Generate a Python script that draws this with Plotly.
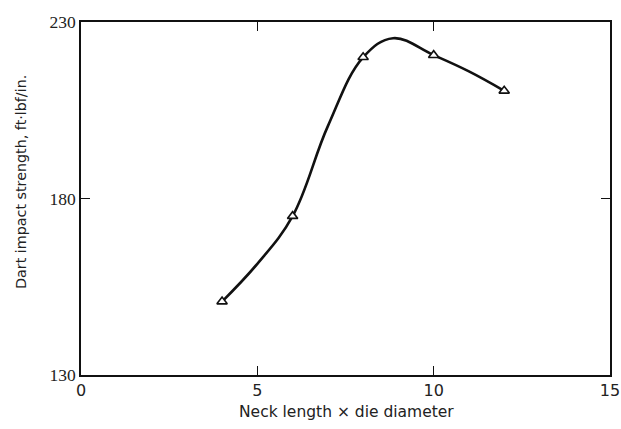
import plotly.graph_objects as go

# Measured points: neck length x die diameter vs dart impact strength
neck_ratio = [4, 6, 8, 10, 12]
dart_strength = [150.8, 175.0, 220.0, 220.6, 210.5]

# Hand-fitted trend curve through the measurements
curve_x = [4, 5, 6, 7, 8, 8.85, 10, 11, 12]
curve_y = [150.8, 161.5, 175.0, 200.5, 220.0, 225.4, 220.6, 216.0, 210.5]

x_ticks = [0, 5, 10, 15]
y_ticks = [130, 180, 230]

x_title = "Neck length \u00d7 die diameter"
y_title = "Dart impact strength, ft\u00b7lbf/in."

fig = go.Figure()
fig.add_trace(go.Scatter(
    x=curve_x, y=curve_y, mode="lines",
    line=dict(color="#111111", width=2.6, shape="spline", smoothing=1.1),
    hoverinfo="skip", showlegend=False,
))
fig.add_trace(go.Scatter(
    x=neck_ratio, y=dart_strength, mode="markers",
    marker=dict(symbol="triangle-up", size=9, color="white",
                line=dict(color="#111111", width=1.6)),
    showlegend=False,
))

axis_common = dict(
    showgrid=False, zeroline=False, automargin=False,
    showline=True, linecolor="#111111", linewidth=1.6,
    mirror="ticks", ticks="inside", ticklen=9, tickwidth=1.4,
    tickcolor="#111111",
)

W, H = 621, 429
L, R, T, B = 81, 11, 22, 54
plot_w, plot_h = W - L - R, H - T - B

fig.update_layout(
    width=W, height=H,
    margin=dict(l=L, r=R, t=T, b=B),
    paper_bgcolor="white", plot_bgcolor="white",
    xaxis=dict(
        range=[0, 15], tickvals=x_ticks, ticktext=[str(v) for v in x_ticks],
        tickfont=dict(family="DejaVu Sans", size=16, color="#222222"),
        **axis_common,
    ),
    yaxis=dict(
        range=[130, 230], tickvals=y_ticks, ticktext=[str(v) for v in y_ticks],
        tickfont=dict(family="Liberation Serif", size=17.5, color="#222222"),
        **axis_common,
    ),
    annotations=[
        dict(text=x_title, xref="paper", yref="paper",
             x=0.5 + (346 - (L + plot_w / 2)) / plot_w,
             y=-(412 - (T + plot_h)) / plot_h,
             xanchor="center", yanchor="middle", showarrow=False,
             font=dict(family="DejaVu Sans", size=15.5, color="#222222")),
        dict(text=y_title, xref="paper", yref="paper",
             x=-(L - 21) / plot_w, y=((T + plot_h) - 182) / plot_h,
             xanchor="center", yanchor="middle", textangle=-90,
             showarrow=False,
             font=dict(family="DejaVu Sans", size=14.3, color="#222222")),
    ],
)

fig.write_html("out.html")
